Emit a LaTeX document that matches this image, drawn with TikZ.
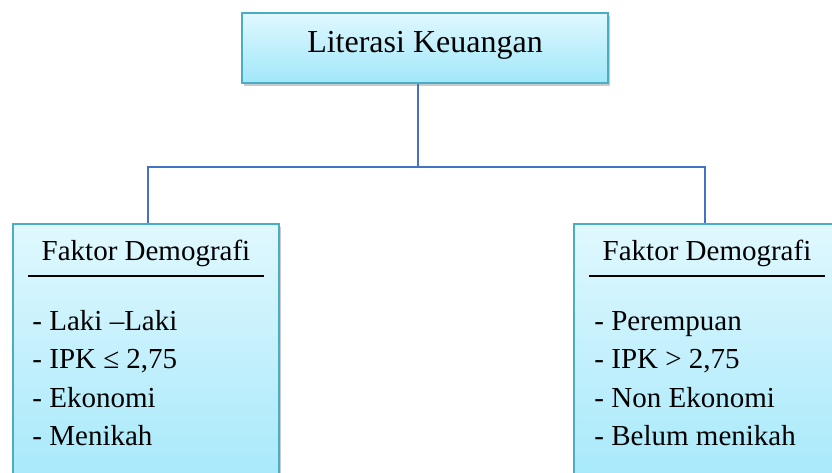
\documentclass[tikz,border=0pt]{standalone}
\usepackage{fontspec}
\setmainfont{Liberation Serif}
\usetikzlibrary{positioning, shadows}

\definecolor{boxline}{RGB}{75,172,198}
\definecolor{boxtop}{RGB}{224,248,254}
\definecolor{boxbottom}{RGB}{160,231,250}
\definecolor{connline}{RGB}{68,114,196}

\begin{document}
\begin{tikzpicture}[
    x=1pt, y=1pt,
    box/.style={draw=boxline, line width=1.5pt, top color=boxtop, bottom color=boxbottom, inner sep=0pt,
        drop shadow={shadow xshift=2pt, shadow yshift=-3pt, opacity=0.35, fill=black!60}},
    title/.style={font=\fontsize{32}{38}\selectfont, text height=21pt, text depth=12pt},
    heading/.style={font=\fontsize{29}{35}\selectfont, anchor=base, inner sep=0pt},
    item/.style={font=\fontsize{29}{35}\selectfont, anchor=base west, inner sep=0pt},
    conn/.style={draw=connline, line width=2pt},
    rule/.style={line width=1.6pt}
]
\useasboundingbox (0,0) rectangle (832,-473);

% Kotak utama
\node[box, title, minimum width=366pt, minimum height=70pt] (lit) at (425,-48) {Literasi Keuangan};

% Kotak faktor
\node[box, minimum width=266pt, minimum height=290pt, anchor=north] (demoL) at (146,-223) {};
\node[box, minimum width=266pt, minimum height=290pt, anchor=north] (demoR) at (707,-223) {};

% Judul dan garis bawah
\foreach \b in {demoL, demoR} {
    \node[heading] (\b head) at ([yshift=-37pt]\b.north) {Faktor Demografi};
    \draw[rule] ([xshift=16pt, yshift=-53pt]\b.north west) -- ([xshift=-16pt, yshift=-53pt]\b.north east);
}

% Daftar
\foreach \t [count=\i] in {Laki –Laki, {IPK ≤ 2,75}, Ekonomi, Menikah}
    \node[item] (itemL\i) at ([xshift=20pt, yshift={-107pt-38.5pt*(\i-1)}]demoL.north west) {- \t};
\foreach \t [count=\i] in {Perempuan, {IPK > 2,75}, Non Ekonomi, Belum menikah}
    \node[item] (itemR\i) at ([xshift=21pt, yshift={-107pt-38.5pt*(\i-1)}]demoR.north west) {- \t};

% Garis penghubung
\coordinate (litfoot) at ([xshift=-7pt]lit.south);
\path (litfoot) ++(0,-83) coordinate (bus);
\draw[conn] (litfoot) -- (bus);
\draw[conn] ([xshift=2pt]demoL.north) -- ([xshift=2pt]demoL.north |- bus)
    -- ([xshift=-2pt]demoR.north |- bus) -- ([xshift=-2pt]demoR.north);

\end{tikzpicture}
\end{document}
